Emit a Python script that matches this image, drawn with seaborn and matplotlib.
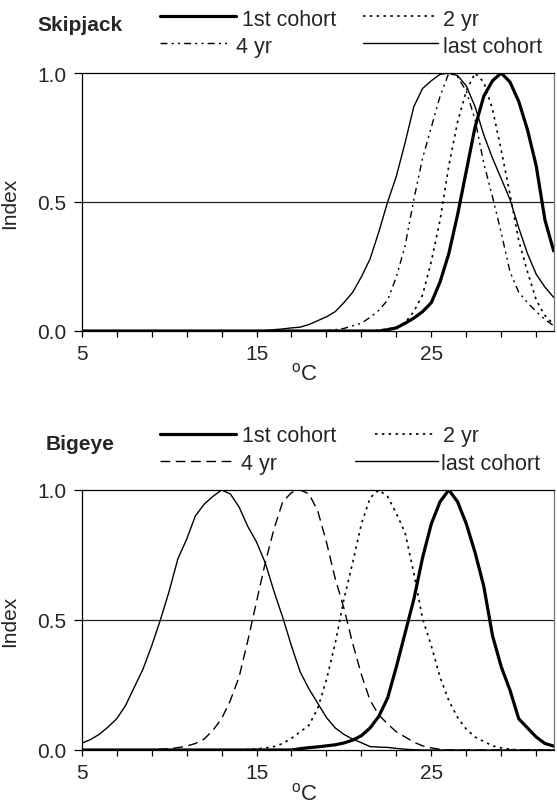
import numpy as np
import pandas as pd
import matplotlib
matplotlib.use("Agg")
import matplotlib.pyplot as plt
from matplotlib.lines import Line2D
import seaborn as sns

# ---------------- data ----------------
temps = np.arange(5.0, 32.01, 0.5)   # temperature grid (°C)
cohorts = ["1st cohort", "2 yr", "4 yr", "last cohort"]

skj_first = [0, 0, 0, 0, 0, 0, 0, 0, 0, 0, 0, 0, 0, 0, 0, 0, 0, 0, 0, 0,
             0, 0, 0, 0, 0, 0, 0, 0, 0, 0, 0, 0, 0, 0, 0,
             0.005, 0.012, 0.03, 0.05, 0.075, 0.11, 0.19, 0.30, 0.45, 0.62,
             0.79, 0.91, 0.97, 1.0, 0.965, 0.89, 0.78, 0.64, 0.43, 0.31]
skj_2yr = [0, 0, 0, 0, 0, 0, 0, 0, 0, 0, 0, 0, 0, 0, 0, 0, 0, 0, 0, 0,
           0, 0, 0, 0, 0, 0, 0, 0, 0, 0, 0, 0, 0, 0,
           0.003, 0.008, 0.015, 0.033, 0.075, 0.14, 0.27, 0.43, 0.64, 0.81,
           0.93, 1.0, 0.965, 0.86, 0.70, 0.53, 0.35, 0.23, 0.12, 0.06, 0.025]
skj_4yr = [0, 0, 0, 0, 0, 0, 0, 0, 0, 0, 0, 0, 0, 0, 0, 0, 0, 0, 0, 0,
           0, 0, 0, 0, 0, 0, 0, 0,
           0.002, 0.005, 0.01, 0.02, 0.03, 0.053, 0.08, 0.12, 0.21, 0.33,
           0.51, 0.67, 0.79, 0.91, 1.0, 0.985, 0.93, 0.82, 0.65, 0.52,
           0.38, 0.23, 0.15, 0.11, 0.075, 0.045, 0.02]
skj_last = [0, 0, 0, 0, 0, 0, 0, 0, 0, 0, 0, 0, 0, 0, 0, 0, 0, 0, 0, 0, 0,
            0.002, 0.005, 0.008, 0.012, 0.015, 0.025, 0.04, 0.055, 0.075, 0.11,
            0.15, 0.21, 0.28, 0.385, 0.5, 0.6, 0.73, 0.87, 0.94, 0.97,
            0.995, 1.0, 0.99, 0.95, 0.87, 0.76, 0.67, 0.59, 0.51, 0.4,
            0.3, 0.22, 0.17, 0.13]

bet_first = [0, 0, 0, 0, 0, 0, 0, 0, 0, 0, 0, 0, 0, 0, 0, 0, 0, 0, 0, 0,
             0, 0, 0, 0, 0,
             0.005, 0.009, 0.012, 0.016, 0.02, 0.027, 0.038, 0.055, 0.085, 0.13,
             0.2, 0.32, 0.45, 0.58, 0.74, 0.87, 0.955, 1.0, 0.955, 0.87,
             0.76, 0.63, 0.44, 0.32, 0.23, 0.12, 0.085, 0.05, 0.025, 0.015]
bet_2yr = [0, 0, 0, 0, 0, 0, 0, 0, 0, 0, 0, 0, 0, 0, 0, 0, 0, 0, 0,
           0.002, 0.004, 0.008, 0.013, 0.025, 0.045, 0.07, 0.095, 0.16, 0.27,
           0.41, 0.58, 0.72, 0.87, 0.97, 1.0, 0.975, 0.91, 0.835, 0.68,
           0.505, 0.40, 0.28, 0.19, 0.125, 0.08, 0.05, 0.033, 0.016, 0.008,
           0.003, 0, 0, 0, 0, 0]
bet_4yr = [0, 0, 0, 0, 0, 0, 0, 0, 0,
           0.003, 0.005, 0.009, 0.015, 0.025, 0.042, 0.075, 0.12, 0.19, 0.28,
           0.42, 0.57, 0.72, 0.85, 0.955, 0.99, 1.0, 0.985, 0.92, 0.80,
           0.66, 0.545, 0.41, 0.29, 0.19, 0.135, 0.10, 0.07, 0.05, 0.03,
           0.016, 0.008, 0.003, 0, 0, 0, 0, 0, 0, 0, 0, 0, 0, 0, 0, 0]
bet_last = [0.026, 0.04, 0.06, 0.088, 0.12, 0.17, 0.24, 0.31, 0.40, 0.50,
            0.61, 0.735, 0.81, 0.9, 0.945, 0.975, 1.0, 0.985, 0.935, 0.86,
            0.8, 0.72, 0.61, 0.51, 0.40, 0.30, 0.235, 0.18, 0.125, 0.085,
            0.06, 0.042, 0.028, 0.013, 0.011, 0.01, 0.006, 0.003, 0.001,
            0, 0, 0, 0, 0, 0, 0, 0, 0, 0, 0, 0, 0, 0, 0, 0]

species = ["Skipjack", "Bigeye"]
xtick_vals = [5, 7, 9, 11, 13, 15, 17, 19, 21, 23, 25, 27, 29, 31]
xtick_labels = ["5", "", "", "", "", "15", "", "", "", "", "25", "", "", ""]
ytick_vals = [0.0, 0.5, 1.0]
ytick_labels = ["0.0", "0.5", "1.0"]


def long_df(series):
    frames = []
    for name, vals in zip(cohorts, series):
        frames.append(pd.DataFrame({"T": temps, "Index": vals, "cohort": name}))
    return pd.concat(frames, ignore_index=True)


# ---------------- style ----------------
sns.set_theme(style="white")
plt.rcParams["font.family"] = ["Liberation Sans", "DejaVu Sans"]
plt.rcParams["mathtext.fontset"] = "custom"
plt.rcParams["mathtext.rm"] = "Liberation Sans"
FS = 15
LFS = 15.5

W, H = 557, 804
fig = plt.figure(figsize=(W / 100, H / 100), dpi=100)
fig.patch.set_facecolor("white")


def fx(px):
    return px / W


def fy(py):
    return 1 - py / H


L, R = 81.7, 553.7
panels = [
    dict(top=74, bot=332, series=[skj_first, skj_2yr, skj_4yr, skj_last],
         four=(0, (5, 3, 1.5, 3, 1.5, 3)), name=species[0], xlab_base=380,
         name_xy=(37, 31), row_y=(17, 44), row_base=(26, 53),
         lines=[(159.6, 235.8), (363, 434), (159.6, 227), (363, 438)],
         texts=[242, 443, 236, 443]),
    dict(top=491, bot=751, series=[bet_first, bet_2yr, bet_4yr, bet_last],
         four=(0, (7, 4)), name=species[1], xlab_base=800,
         name_xy=(46, 450), row_y=(435, 462), row_base=(442, 470),
         lines=[(159.6, 235.8), (375, 434), (159.6, 234), (354.5, 438)],
         texts=[242, 443, 241, 441]),
]

for p in panels:
    ax = fig.add_axes([fx(L), fy(p["bot"]), fx(R) - fx(L), (p["bot"] - p["top"]) / H])
    df = long_df(p["series"])
    dashes = {"1st cohort": "", "2 yr": (1.5, 2.6),
              "4 yr": p["four"][1], "last cohort": ""}
    sizes = {"1st cohort": 2.3, "2 yr": 1.2, "4 yr": 1.0, "last cohort": 1.0}
    sns.lineplot(data=df, x="T", y="Index", hue="cohort",
                 palette=["black"] * 4, hue_order=cohorts,
                 style="cohort", style_order=cohorts, dashes=dashes,
                 size="cohort", size_order=cohorts, sizes=sizes,
                 estimator=None, sort=False, legend=False, ax=ax, clip_on=True)
    ax.axhline(0.5, color="#222222", lw=0.9, zorder=0)
    ax.set_xlim(5, 32)
    ax.set_ylim(0, 1)
    ax.set_xticks(xtick_vals)
    ax.set_xticklabels(xtick_labels)
    ax.set_yticks(ytick_vals)
    ax.set_yticklabels(ytick_labels)
    ax.tick_params(axis="x", direction="out", length=4.3, width=0.9,
                   color="black", labelsize=FS, pad=5, bottom=True)
    ax.tick_params(axis="y", direction="out", length=5.8, width=0.9,
                   color="black", labelsize=FS, pad=5, left=True)
    for side, sp in ax.spines.items():
        sp.set_visible(True)
        sp.set_color("black" if side != "right" else "#777777")
        sp.set_linewidth(0.9)
    ax.set_facecolor("white")
    ax.set_xlabel(r"$^{\mathrm{o}}$C", fontsize=FS + 1)
    ax.set_ylabel("Index", fontsize=FS)
    ax.xaxis.label.set_va("baseline")
    ax.xaxis.set_label_coords((304 - L) / (R - L),
                              -(p["xlab_base"] - p["bot"]) / (p["bot"] - p["top"]))
    ax.yaxis.set_label_coords(-(L - 19) / (R - L), 0.5)

    # legend drawn manually to mimic the original layout
    styles = [dict(lw=2.3, ls="-"), dict(lw=1.2, ls=(0, (1.5, 2.6))),
              dict(lw=1.0, ls=p["four"]), dict(lw=1.0, ls="-")]
    rows = [0, 0, 1, 1]
    for i, name in enumerate(cohorts):
        x0, x1 = p["lines"][i]
        y = p["row_y"][rows[i]]
        fig.add_artist(Line2D([fx(x0), fx(x1)], [fy(y), fy(y)], color="black",
                              transform=fig.transFigure, **styles[i]))
        fig.text(fx(p["texts"][i]), fy(p["row_base"][rows[i]]), name,
                 fontsize=LFS, ha="left", va="baseline")
    fig.text(fx(p["name_xy"][0]), fy(p["name_xy"][1]), p["name"],
             fontsize=FS, fontweight="bold", ha="left", va="baseline")

fig.savefig("out.png", dpi=100, facecolor="white")
